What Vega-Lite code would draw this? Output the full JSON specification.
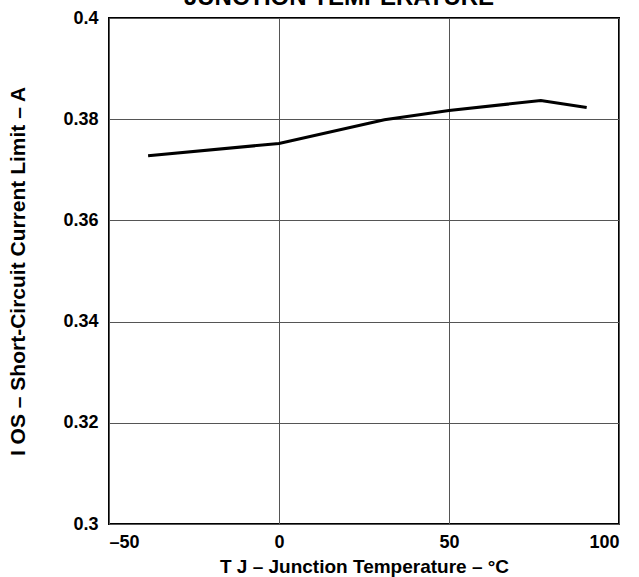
{
  "$schema": "https://vega.github.io/schema/vega-lite/v6.json",
  "autosize": "none",
  "width": 510,
  "height": 506,
  "padding": {"left": 109, "top": 18, "right": 20, "bottom": 53},
  "background": "white",
  "title": {
    "text": "JUNCTION TEMPERATURE",
    "font": "Liberation Sans",
    "fontSize": 24,
    "fontWeight": "bold",
    "color": "black",
    "baseline": "alphabetic",
    "anchor": "middle",
    "frame": "group",
    "dx": -25,
    "dy": 20,
    "offset": 0
  },
  "data": {
    "values": [
      {"t": -38.5, "i": 0.3728},
      {"t": 0, "i": 0.3752},
      {"t": 31, "i": 0.3799},
      {"t": 50, "i": 0.3817},
      {"t": 77, "i": 0.3837},
      {"t": 90.5, "i": 0.3823}
    ]
  },
  "config": {
    "view": {"stroke": "black", "strokeWidth": 2},
    "axis": {
      "labelFont": "Liberation Sans",
      "labelFontSize": 18,
      "labelFontWeight": "bold",
      "labelColor": "black",
      "titleFont": "Liberation Sans",
      "titleFontSize": 19,
      "titleFontWeight": "bold",
      "titleColor": "black",
      "ticks": false,
      "domain": false,
      "gridColor": "#555555",
      "gridWidth": 1,
      "gridOpacity": 1
    }
  },
  "mark": {"type": "line", "color": "black", "strokeWidth": 3, "clip": true},
  "encoding": {
    "x": {
      "field": "t",
      "type": "quantitative",
      "scale": {"domain": [-50, 100], "nice": false, "zero": false},
      "axis": {
        "values": [-50, 0, 50, 100],
        "labelExpr": "datum.value < 0 ? '–' + abs(datum.value) : datum.label",
        "labelPadding": 9,
        "titlePadding": 6,
        "title": "T J – Junction Temperature – °C"
      }
    },
    "y": {
      "field": "i",
      "type": "quantitative",
      "scale": {"domain": [0.3, 0.4], "nice": false, "zero": false},
      "axis": {
        "values": [0.3, 0.32, 0.34, 0.36, 0.38, 0.4],
        "format": "~g",
        "labelPadding": 11,
        "titlePadding": 34,
        "titleFontSize": 21,
        "title": "I OS – Short-Circuit Current Limit – A"
      }
    }
  }
}
